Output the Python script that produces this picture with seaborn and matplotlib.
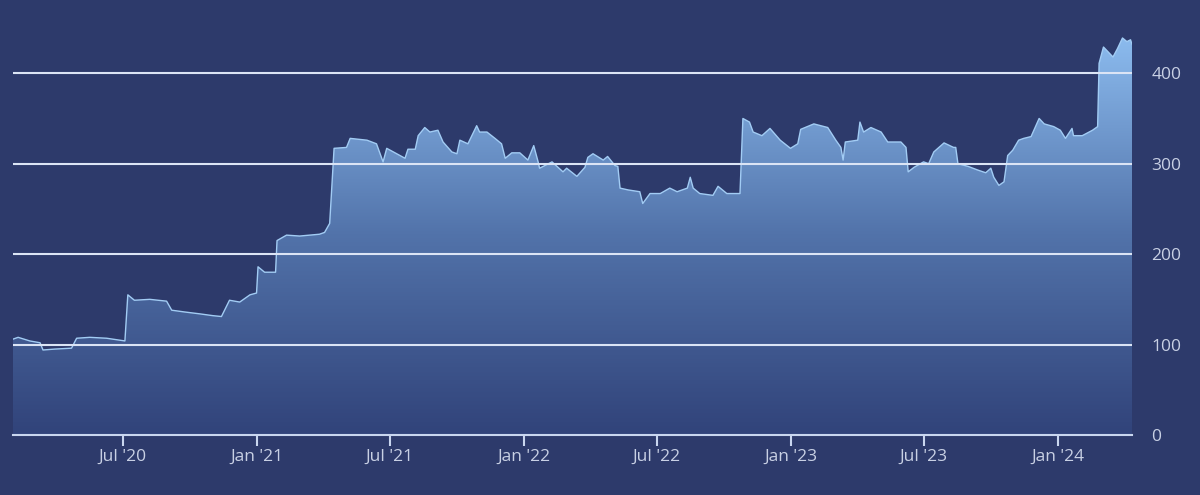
import seaborn as sns
import matplotlib.pyplot as plt
import matplotlib.dates as mdates
from matplotlib.colors import LinearSegmentedColormap
import numpy as np
import pandas as pd

# Data
dates = [
    "2020-02-02", "2020-02-09", "2020-02-25", "2020-03-10", "2020-03-14", "2020-03-30",
    "2020-04-22", "2020-04-29", "2020-05-17", "2020-06-09", "2020-07-04", "2020-07-08",
    "2020-07-17", "2020-08-07", "2020-08-30", "2020-09-06", "2020-09-24", "2020-10-14",
    "2020-11-01", "2020-11-13", "2020-11-24", "2020-12-08", "2020-12-22", "2020-12-31",
    "2021-01-02", "2021-01-11", "2021-01-26", "2021-01-28", "2021-02-10", "2021-02-28",
    "2021-03-27", "2021-04-03", "2021-04-10", "2021-04-16", "2021-05-03", "2021-05-08",
    "2021-05-31", "2021-06-13", "2021-06-22", "2021-06-27", "2021-07-15", "2021-07-22",
    "2021-07-26", "2021-08-05", "2021-08-09", "2021-08-18", "2021-08-25", "2021-09-05",
    "2021-09-12", "2021-09-24", "2021-10-01", "2021-10-05", "2021-10-16", "2021-10-28",
    "2021-11-01", "2021-11-11", "2021-11-22", "2021-12-01", "2021-12-06", "2021-12-15",
    "2021-12-26", "2022-01-06", "2022-01-14", "2022-01-20", "2022-01-22", "2022-02-08",
    "2022-02-23", "2022-02-28", "2022-03-14", "2022-03-25", "2022-03-29", "2022-04-05",
    "2022-04-19", "2022-04-25", "2022-05-05", "2022-05-09", "2022-05-12", "2022-05-23",
    "2022-06-08", "2022-06-12", "2022-06-22", "2022-07-06", "2022-07-19", "2022-07-29",
    "2022-08-12", "2022-08-16", "2022-08-20", "2022-08-29", "2022-09-16", "2022-09-23",
    "2022-10-05", "2022-10-23", "2022-10-27", "2022-11-05", "2022-11-10", "2022-11-22",
    "2022-12-03", "2022-12-17", "2022-12-31", "2023-01-10", "2023-01-14", "2023-02-01",
    "2023-02-20", "2023-03-03", "2023-03-10", "2023-03-13", "2023-03-16", "2023-04-02",
    "2023-04-05", "2023-04-10", "2023-04-20", "2023-05-04", "2023-05-13", "2023-05-31",
    "2023-06-07", "2023-06-10", "2023-06-18", "2023-07-01", "2023-07-08", "2023-07-15",
    "2023-07-29", "2023-08-11", "2023-08-14", "2023-08-17", "2023-08-31", "2023-09-13",
    "2023-09-24", "2023-10-01", "2023-10-05", "2023-10-12", "2023-10-19", "2023-10-24",
    "2023-10-31", "2023-11-08", "2023-11-15", "2023-11-25", "2023-12-06", "2023-12-13",
    "2023-12-26", "2024-01-04", "2024-01-11", "2024-01-20", "2024-01-22", "2024-02-03",
    "2024-02-17", "2024-02-24", "2024-02-26", "2024-03-03", "2024-03-09", "2024-03-16",
    "2024-03-22", "2024-03-29", "2024-04-04", "2024-04-09", "2024-04-11",
]
values = [
    106, 108, 104, 102, 94, 95,
    96, 107, 108, 107, 104, 155,
    149, 150, 148, 138, 136, 134,
    132, 131, 149, 147, 155, 157,
    186, 180, 180, 215, 221, 220,
    222, 224, 234, 317, 318, 328,
    326, 322, 302, 317, 309, 306,
    316, 316, 331, 340, 335, 337,
    324, 313, 311, 326, 322, 342,
    335, 335, 328, 322, 306, 312,
    312, 304, 320, 302, 295, 302,
    291, 295, 286, 296, 307, 311,
    304, 308, 298, 297, 273, 271,
    269, 256, 267, 267, 273, 269,
    273, 285, 273, 267, 265, 275,
    267, 267, 350, 346, 335, 331,
    339, 326, 317, 322, 338, 344,
    340, 326, 318, 304, 324, 326,
    346, 335, 340, 335, 324, 324,
    318, 291, 296, 302, 300, 313,
    323, 318, 318, 300, 297, 293,
    290, 295, 285, 276, 280, 309,
    315, 326, 328, 330, 350, 344,
    341, 337, 328, 339, 331, 331,
    337, 341, 411, 429, 424, 418,
    427, 439, 435, 437, 432,
]
y_ticks = [0, 100, 200, 300, 400]

df = pd.DataFrame({"date": pd.to_datetime(dates), "value": values})

bg = "#2d3a6b"
sns.set_theme(style="white")
plt.rcParams['font.family'] = ['Open Sans', 'DejaVu Sans']

fig = plt.figure(figsize=(12, 4.95), dpi=100, facecolor=bg)
ax = fig.add_axes([13 / 1200, 1 - 435 / 495, (1132 - 13) / 1200, 416 / 495])
ax.set_facecolor(bg)

ymax = 460
ax.set_ylim(0, ymax)
ax.set_xlim(df["date"].iloc[0], df["date"].iloc[-1])

# gradient area under the line
xnum = mdates.date2num(df["date"])
fill = ax.fill_between(df["date"], df["value"], 0, color="none", lw=0)
cmap = LinearSegmentedColormap.from_list("area", ["#31437a", "#5273aa", "#8dbdf0"])
grad = np.linspace(0, 1, 256).reshape(-1, 1)
img = ax.imshow(grad, cmap=cmap, origin="lower", aspect="auto",
                extent=[xnum[0], xnum[-1], 0, 445], zorder=1)
img.set_clip_path(fill.get_paths()[0], transform=ax.transData)

sns.lineplot(data=df, x="date", y="value", ax=ax, color="#a2ccf4", lw=1, zorder=2)

# horizontal grid lines drawn over the area
for yv in y_ticks[1:]:
    ax.axhline(yv, color="#dbe4f5", lw=1.5, zorder=3)

for s in ["top", "right", "left"]:
    ax.spines[s].set_visible(False)
ax.spines["bottom"].set_color("#c9d6ef")
ax.spines["bottom"].set_linewidth(1.5)
ax.spines["bottom"].set_zorder(4)

ax.yaxis.tick_right()
ax.set_yticks(y_ticks)
ax.tick_params(axis="y", length=0, pad=14, labelsize=12.5, labelcolor="#c8d0e4")
ax.xaxis.set_major_locator(mdates.MonthLocator(bymonth=[1, 7]))
ax.xaxis.set_major_formatter(mdates.DateFormatter("%b '%y"))
ax.tick_params(axis="x", bottom=True, length=8, width=1.5, color="#c9d6ef",
               pad=2, labelsize=12.5, labelcolor="#c8d0e4")
ax.set(title=None, xlabel=None, ylabel=None)

plt.savefig("out.png", dpi=100, facecolor=bg)
